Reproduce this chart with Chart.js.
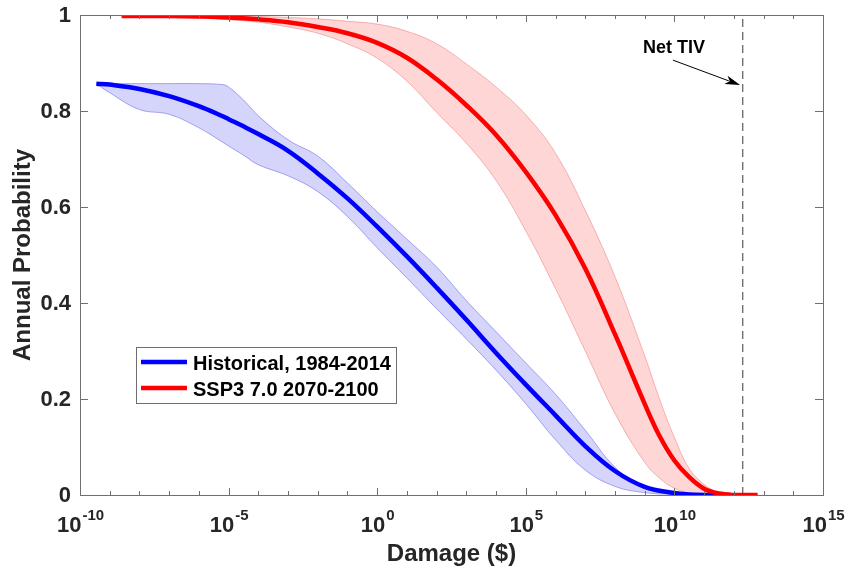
<!DOCTYPE html>
<html lang="en">
<head>
<meta charset="UTF-8">
<title>Annual Probability vs Damage</title>
<script src="https://cdn.jsdelivr.net/npm/chart.js"></script>
<style>
  html, body { margin: 0; padding: 0; background: #fff; }
  .boxGrafico { width: 848px; height: 569px; }
</style>
</head>
<body>
<div class="boxGrafico">
  <canvas id="grafico" width="848" height="569"></canvas>
</div>
<script>
// damage values are kept as powers of ten (damage = 10^exp)
const histExp   = [-9.45, -9, -8, -7, -6, -5.2, -5, -4.5, -4, -3, -2, -1, 0, 1, 2, 3, 4, 5, 6, 7, 8, 9, 10, 10.5, 11, 11.9];
const histMean  = [0.857, 0.855, 0.846, 0.831, 0.810, 0.789, 0.783, 0.768, 0.752, 0.717, 0.670, 0.618, 0.559, 0.497, 0.432, 0.365, 0.296, 0.230, 0.166, 0.102, 0.050, 0.017, 0.004, 0.001, 0, 0];
const histUpper = [0.857, 0.857, 0.857, 0.857, 0.857, 0.855, 0.850, 0.823, 0.790, 0.740, 0.706, 0.650, 0.590, 0.533, 0.475, 0.405, 0.340, 0.275, 0.210, 0.135, 0.058, 0.014, 0.001, 0, 0, 0];
const histLower = [0.857, 0.838, 0.803, 0.793, 0.765, 0.735, 0.727, 0.708, 0.688, 0.665, 0.632, 0.580, 0.515, 0.452, 0.388, 0.325, 0.260, 0.190, 0.115, 0.052, 0.018, 0.005, 0.001, 0, 0, 0];

const sspExp   = [-8.6, -7, -6, -5, -4, -3, -2, -1, 0, 1, 2, 3, 4, 5, 6, 7, 8, 9, 9.5, 10, 10.5, 11, 11.5, 12, 12.8];
const sspMean  = [0.998, 0.998, 0.997, 0.995, 0.991, 0.985, 0.975, 0.962, 0.942, 0.911, 0.866, 0.812, 0.750, 0.673, 0.583, 0.472, 0.335, 0.190, 0.123, 0.072, 0.037, 0.013, 0.003, 0, 0];
const sspUpper = [0.999, 0.999, 0.999, 0.998, 0.997, 0.995, 0.992, 0.987, 0.981, 0.966, 0.940, 0.898, 0.850, 0.792, 0.712, 0.593, 0.455, 0.290, 0.200, 0.120, 0.055, 0.022, 0.005, 0, 0];
const sspLower = [0.998, 0.996, 0.994, 0.990, 0.985, 0.975, 0.962, 0.940, 0.910, 0.862, 0.797, 0.733, 0.655, 0.550, 0.430, 0.300, 0.170, 0.068, 0.035, 0.014, 0.004, 0.001, 0, 0, 0];

const seriesLabels = ['Historical, 1984-2014', 'SSP3 7.0 2070-2100'];
const xTickExp = [-10, -5, 0, 5, 10, 15];
const yTicks = [0, 0.2, 0.4, 0.6, 0.8, 1];
const yTickLabels = ['0', '0.2', '0.4', '0.6', '0.8', '1'];
const netTIV = 2e12;
const netTIVLabel = 'Net TIV';

const FONT = '"Liberation Sans", Arial, Helvetica, sans-serif';
const TXT = '#262626';
const AXC = '#707070';

function pts(exps, vals) {
    return exps.map((e, i) => ({ x: Math.pow(10, e), y: vals[i] }));
}

// box, inward ticks, labels, legend and the Net TIV arrow
const matlabAxes = {
    id: 'matlabAxes',
    afterDraw(chart) {
        const ctx = chart.ctx;
        const a = chart.chartArea;
        const x = chart.scales.x, y = chart.scales.y;
        ctx.save();

        ctx.strokeStyle = AXC;
        ctx.lineWidth = 1;
        ctx.beginPath();
        for (let e = xTickExp[0]; e <= xTickExp[xTickExp.length - 1]; e++) {
            const px = Math.round(x.getPixelForValue(Math.pow(10, e))) + 0.5;
            const len = xTickExp.includes(e) ? 7 : 4;
            ctx.moveTo(px, a.bottom); ctx.lineTo(px, a.bottom - len);
            ctx.moveTo(px, a.top); ctx.lineTo(px, a.top + len);
        }
        yTicks.forEach(v => {
            const py = Math.round(y.getPixelForValue(v)) + 0.5;
            ctx.moveTo(a.left, py); ctx.lineTo(a.left + 8, py);
            ctx.moveTo(a.right, py); ctx.lineTo(a.right - 8, py);
        });
        ctx.stroke();
        ctx.strokeRect(Math.round(a.left) + 0.5, Math.round(a.top) + 0.5,
            Math.round(a.right - a.left), Math.round(a.bottom - a.top));

        // y tick labels
        ctx.fillStyle = TXT;
        ctx.font = 'bold 22px ' + FONT;
        ctx.textAlign = 'right';
        ctx.textBaseline = 'middle';
        yTicks.forEach((v, i) => {
            ctx.fillText(yTickLabels[i], a.left - 9, y.getPixelForValue(v) + 1);
        });

        // x tick labels 10^n
        ctx.textBaseline = 'alphabetic';
        ctx.textAlign = 'left';
        xTickExp.forEach(e => {
            const px = x.getPixelForValue(Math.pow(10, e));
            ctx.font = 'bold 22px ' + FONT;
            const wb = ctx.measureText('10').width;
            ctx.font = 'bold 15px ' + FONT;
            const es = String(e);
            const we = ctx.measureText(es).width;
            const x0 = px - (wb + we) / 2;
            ctx.font = 'bold 22px ' + FONT;
            ctx.fillText('10', x0, a.bottom + 37);
            ctx.font = 'bold 15px ' + FONT;
            ctx.fillText(es, x0 + wb + 1, a.bottom + 25);
        });

        // axis titles
        ctx.font = 'bold 24px ' + FONT;
        ctx.textAlign = 'center';
        ctx.fillText('Damage ($)', (a.left + a.right) / 2, a.bottom + 66);
        ctx.save();
        ctx.translate(30, (a.top + a.bottom) / 2);
        ctx.rotate(-Math.PI / 2);
        ctx.fillText('Annual Probability', 0, 0);
        ctx.restore();

        // legend
        const lx = 136, ly = 347, lw = 260, lh = 56;
        ctx.fillStyle = '#fff';
        ctx.fillRect(lx, ly, lw, lh);
        ctx.strokeStyle = '#6e6e6e';
        ctx.strokeRect(lx + 0.5, ly + 0.5, lw, lh);
        const legendColors = ['#0000ff', '#ff0000'];
        ctx.font = 'bold 20px ' + FONT;
        ctx.textAlign = 'left';
        seriesLabels.forEach((lab, i) => {
            const cy = ly + 15 + i * 26;
            ctx.strokeStyle = legendColors[i];
            ctx.lineWidth = 4.5;
            ctx.beginPath();
            ctx.moveTo(lx + 5, cy); ctx.lineTo(lx + 51, cy);
            ctx.stroke();
            ctx.fillStyle = '#000';
            ctx.fillText(lab, lx + 57, cy + 8);
        });

        // Net TIV annotation
        ctx.fillStyle = '#000';
        ctx.font = 'bold 18px ' + FONT;
        ctx.textAlign = 'center';
        const tx = x.getPixelForValue(Math.pow(10, 9.99));
        const ty = y.getPixelForValue(0.921);
        ctx.fillText(netTIVLabel, tx, ty);
        const x1 = x.getPixelForValue(Math.pow(10, 9.95)), y1 = y.getPixelForValue(0.906);
        const x2 = x.getPixelForValue(Math.pow(10, 12.21)), y2 = y.getPixelForValue(0.854);
        const ang = Math.atan2(y2 - y1, x2 - x1);
        ctx.strokeStyle = '#000';
        ctx.lineWidth = 1;
        ctx.beginPath();
        ctx.moveTo(x1, y1);
        ctx.lineTo(x2 - 12 * Math.cos(ang), y2 - 12 * Math.sin(ang));
        ctx.stroke();
        ctx.beginPath();
        ctx.moveTo(x2, y2);
        ctx.lineTo(x2 - 15 * Math.cos(ang) + 4.5 * Math.sin(ang), y2 - 15 * Math.sin(ang) - 4.5 * Math.cos(ang));
        ctx.lineTo(x2 - 11 * Math.cos(ang), y2 - 11 * Math.sin(ang));
        ctx.lineTo(x2 - 15 * Math.cos(ang) - 4.5 * Math.sin(ang), y2 - 15 * Math.sin(ang) + 4.5 * Math.cos(ang));
        ctx.closePath();
        ctx.fill();

        ctx.restore();
    }
};

const bandLine = {
    pointRadius: 0,
    borderWidth: 1,
    tension: 0.4
};

const ctx = document.getElementById('grafico').getContext('2d');
const grafico = new Chart(ctx, {
    type: 'line',
    data: {
        datasets: [
            Object.assign({ data: pts(histExp, histUpper), borderColor: 'rgba(70,70,220,0.45)', fill: false, order: 4 }, bandLine),
            Object.assign({ data: pts(histExp, histLower), borderColor: 'rgba(70,70,220,0.45)', backgroundColor: 'rgba(30,30,235,0.19)', fill: '-1', order: 4 }, bandLine),
            Object.assign({ data: pts(sspExp, sspUpper), borderColor: 'rgba(230,90,90,0.4)', fill: false, order: 3 }, bandLine),
            Object.assign({ data: pts(sspExp, sspLower), borderColor: 'rgba(230,90,90,0.4)', backgroundColor: 'rgba(250,30,30,0.18)', fill: '-1', order: 3 }, bandLine),
            {
                data: [{ x: netTIV, y: 0 }, { x: netTIV, y: 1 }],
                borderColor: '#3a3a3a', borderWidth: 1, borderDash: [8, 5],
                pointRadius: 0, fill: false, order: 2
            },
            {
                label: seriesLabels[0], data: pts(histExp, histMean),
                borderColor: '#0000ff', borderWidth: 4.5, pointRadius: 0,
                tension: 0.4, fill: false, order: 1
            },
            {
                label: seriesLabels[1], data: pts(sspExp, sspMean),
                borderColor: '#ff0000', borderWidth: 4.5, pointRadius: 0,
                tension: 0.4, fill: false, order: 0
            }
        ]
    },
    options: {
        responsive: false,
        animation: false,
        layout: { padding: { top: 15, right: 25, left: 0, bottom: 0 } },
        scales: {
            x: {
                type: 'logarithmic',
                min: Math.pow(10, xTickExp[0]),
                max: Math.pow(10, xTickExp[xTickExp.length - 1]),
                ticks: { display: false },
                grid: { display: false },
                border: { display: false },
                afterFit: s => { s.height = 74; }
            },
            y: {
                min: 0,
                max: 1,
                ticks: { display: false },
                grid: { display: false },
                border: { display: false },
                afterFit: s => { s.width = 80; }
            }
        },
        plugins: {
            legend: { display: false },
            tooltip: { enabled: false }
        }
    },
    plugins: [matlabAxes]
});
</script>
</body>
</html>
